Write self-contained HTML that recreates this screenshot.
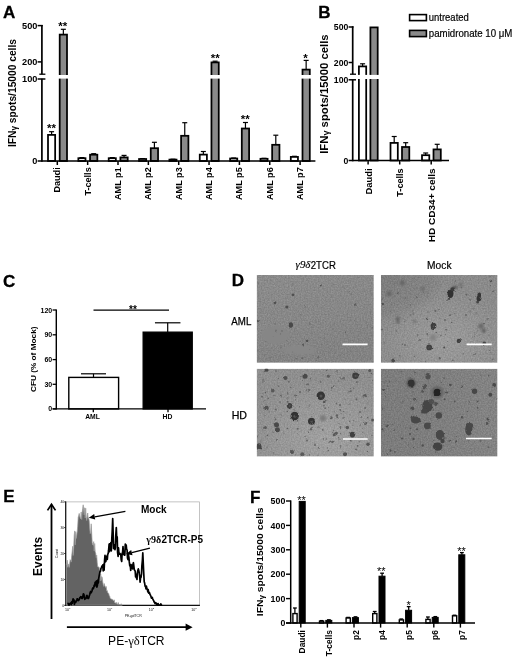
<!DOCTYPE html>
<html lang="en"><head><meta charset="utf-8"><title>Figure</title>
<style>html,body{margin:0;padding:0;background:#fff}svg{display:block}</style>
</head><body>
<svg width="520" height="661" viewBox="0 0 520 661" font-family='"Liberation Sans", sans-serif'>
<defs><filter id="b1" x="-5%" y="-5%" width="110%" height="110%"><feGaussianBlur stdDeviation="0.55"/></filter>
<filter id="rough" x="-5%" y="-5%" width="110%" height="110%"><feTurbulence type="fractalNoise" baseFrequency="0.35" numOctaves="2" seed="8" result="t"/><feDisplacementMap in="SourceGraphic" in2="t" scale="2.6" xChannelSelector="R" yChannelSelector="G"/><feGaussianBlur stdDeviation="0.5"/></filter>
<filter id="b2" x="-5%" y="-5%" width="110%" height="110%"><feGaussianBlur stdDeviation="1.3"/></filter>
<linearGradient id="g1a" x1="0" y1="0" x2="0.3" y2="1"><stop offset="0" stop-color="#fff" stop-opacity="0.03"/><stop offset="1" stop-color="#000" stop-opacity="0.05"/></linearGradient>
<radialGradient id="g2a" cx="0.55" cy="0.75" r="0.6"><stop offset="0" stop-color="#fff" stop-opacity="0.17"/><stop offset="1" stop-color="#fff" stop-opacity="0"/></radialGradient>
<radialGradient id="g2b" cx="0.0" cy="0.0" r="0.55"><stop offset="0" stop-color="#000" stop-opacity="0.12"/><stop offset="0.8" stop-color="#000" stop-opacity="0.06"/><stop offset="1" stop-color="#000" stop-opacity="0"/></radialGradient>
<radialGradient id="g3a" cx="0.6" cy="0.8" r="0.7"><stop offset="0" stop-color="#fff" stop-opacity="0.2"/><stop offset="1" stop-color="#fff" stop-opacity="0"/></radialGradient>
<linearGradient id="g4a" x1="0" y1="0" x2="1" y2="0"><stop offset="0" stop-color="#000" stop-opacity="0.03"/><stop offset="1" stop-color="#fff" stop-opacity="0.04"/></linearGradient>
<filter id="noise" x="0" y="0" width="100%" height="100%" color-interpolation-filters="sRGB"><feTurbulence type="fractalNoise" baseFrequency="0.7" numOctaves="2" seed="3"/><feColorMatrix type="matrix" values="1 0 0 0 0  1 0 0 0 0  1 0 0 0 0  0 0 0 0 1"/></filter></defs>
<rect width="520" height="661" fill="#fff"/>
<g id="panelA">
<text x="3.0" y="17.9" font-size="17" font-weight="bold" stroke="#000" stroke-width="0.3">A</text>
<text x="16.0" y="147" font-size="10.8" font-weight="bold" transform="rotate(-90 16.0 147)" textLength="108" lengthAdjust="spacingAndGlyphs">IFN<tspan font-size="8.5" dy="1">γ</tspan><tspan dy="-1"> spots/15000 cells</tspan></text>
<line x1="51.599999999999994" y1="131.7" x2="51.599999999999994" y2="134.9" stroke="#000" stroke-width="1.2"/>
<line x1="49.099999999999994" y1="131.7" x2="54.099999999999994" y2="131.7" stroke="#000" stroke-width="1.2"/>
<line x1="63.349999999999994" y1="29.3" x2="63.349999999999994" y2="34.6" stroke="#000" stroke-width="1.2"/>
<line x1="60.849999999999994" y1="29.3" x2="65.85" y2="29.3" stroke="#000" stroke-width="1.2"/>
<rect x="48.00" y="134.90" width="7.15" height="26.10" fill="#fff" stroke="#000" stroke-width="1.75"/>
<rect x="59.70" y="34.60" width="7.30" height="126.40" fill="#8a8a8a" stroke="#000" stroke-width="1.75"/>
<line x1="81.95" y1="157.6" x2="81.95" y2="158.2" stroke="#000" stroke-width="1.2"/>
<line x1="79.45" y1="157.6" x2="84.45" y2="157.6" stroke="#000" stroke-width="1.2"/>
<line x1="93.7" y1="153.7" x2="93.7" y2="154.7" stroke="#000" stroke-width="1.2"/>
<line x1="91.2" y1="153.7" x2="96.2" y2="153.7" stroke="#000" stroke-width="1.2"/>
<rect x="78.35" y="158.20" width="7.15" height="2.80" fill="#fff" stroke="#000" stroke-width="1.75"/>
<rect x="90.05" y="154.70" width="7.30" height="6.30" fill="#8a8a8a" stroke="#000" stroke-width="1.75"/>
<line x1="112.3" y1="157.6" x2="112.3" y2="158.2" stroke="#000" stroke-width="1.2"/>
<line x1="109.8" y1="157.6" x2="114.8" y2="157.6" stroke="#000" stroke-width="1.2"/>
<line x1="124.05" y1="155.4" x2="124.05" y2="157.4" stroke="#000" stroke-width="1.2"/>
<line x1="121.55" y1="155.4" x2="126.55" y2="155.4" stroke="#000" stroke-width="1.2"/>
<rect x="108.70" y="158.20" width="7.15" height="2.80" fill="#fff" stroke="#000" stroke-width="1.75"/>
<rect x="120.40" y="157.40" width="7.30" height="3.60" fill="#8a8a8a" stroke="#000" stroke-width="1.75"/>
<line x1="142.65000000000003" y1="158.6" x2="142.65000000000003" y2="159.0" stroke="#000" stroke-width="1.2"/>
<line x1="140.15000000000003" y1="158.6" x2="145.15000000000003" y2="158.6" stroke="#000" stroke-width="1.2"/>
<line x1="154.40000000000003" y1="142.3" x2="154.40000000000003" y2="148.2" stroke="#000" stroke-width="1.2"/>
<line x1="151.90000000000003" y1="142.3" x2="156.90000000000003" y2="142.3" stroke="#000" stroke-width="1.2"/>
<rect x="139.05" y="159.00" width="7.15" height="2.00" fill="#fff" stroke="#000" stroke-width="1.75"/>
<rect x="150.75" y="148.20" width="7.30" height="12.80" fill="#8a8a8a" stroke="#000" stroke-width="1.75"/>
<line x1="173.0" y1="159.2" x2="173.0" y2="159.6" stroke="#000" stroke-width="1.2"/>
<line x1="170.5" y1="159.2" x2="175.5" y2="159.2" stroke="#000" stroke-width="1.2"/>
<line x1="184.75" y1="122.7" x2="184.75" y2="135.8" stroke="#000" stroke-width="1.2"/>
<line x1="182.25" y1="122.7" x2="187.25" y2="122.7" stroke="#000" stroke-width="1.2"/>
<rect x="169.40" y="159.60" width="7.15" height="1.40" fill="#fff" stroke="#000" stroke-width="1.75"/>
<rect x="181.10" y="135.80" width="7.30" height="25.20" fill="#8a8a8a" stroke="#000" stroke-width="1.75"/>
<line x1="203.35000000000002" y1="151.5" x2="203.35000000000002" y2="154.6" stroke="#000" stroke-width="1.2"/>
<line x1="200.85000000000002" y1="151.5" x2="205.85000000000002" y2="151.5" stroke="#000" stroke-width="1.2"/>
<line x1="215.10000000000002" y1="61.2" x2="215.10000000000002" y2="62.4" stroke="#000" stroke-width="1.2"/>
<line x1="212.60000000000002" y1="61.2" x2="217.60000000000002" y2="61.2" stroke="#000" stroke-width="1.2"/>
<rect x="199.75" y="154.60" width="7.15" height="6.40" fill="#fff" stroke="#000" stroke-width="1.75"/>
<rect x="211.45" y="62.40" width="7.30" height="98.60" fill="#8a8a8a" stroke="#000" stroke-width="1.75"/>
<line x1="233.70000000000005" y1="158.0" x2="233.70000000000005" y2="158.5" stroke="#000" stroke-width="1.2"/>
<line x1="231.20000000000005" y1="158.0" x2="236.20000000000005" y2="158.0" stroke="#000" stroke-width="1.2"/>
<line x1="245.45000000000005" y1="122.5" x2="245.45000000000005" y2="128.5" stroke="#000" stroke-width="1.2"/>
<line x1="242.95000000000005" y1="122.5" x2="247.95000000000005" y2="122.5" stroke="#000" stroke-width="1.2"/>
<rect x="230.10" y="158.50" width="7.15" height="2.50" fill="#fff" stroke="#000" stroke-width="1.75"/>
<rect x="241.80" y="128.50" width="7.30" height="32.50" fill="#8a8a8a" stroke="#000" stroke-width="1.75"/>
<line x1="264.05" y1="158.3" x2="264.05" y2="158.8" stroke="#000" stroke-width="1.2"/>
<line x1="261.55" y1="158.3" x2="266.55" y2="158.3" stroke="#000" stroke-width="1.2"/>
<line x1="275.8" y1="135.2" x2="275.8" y2="144.8" stroke="#000" stroke-width="1.2"/>
<line x1="273.3" y1="135.2" x2="278.3" y2="135.2" stroke="#000" stroke-width="1.2"/>
<rect x="260.45" y="158.80" width="7.15" height="2.20" fill="#fff" stroke="#000" stroke-width="1.75"/>
<rect x="272.15" y="144.80" width="7.30" height="16.20" fill="#8a8a8a" stroke="#000" stroke-width="1.75"/>
<line x1="294.40000000000003" y1="156.3" x2="294.40000000000003" y2="156.9" stroke="#000" stroke-width="1.2"/>
<line x1="291.90000000000003" y1="156.3" x2="296.90000000000003" y2="156.3" stroke="#000" stroke-width="1.2"/>
<line x1="306.15000000000003" y1="60.4" x2="306.15000000000003" y2="69.6" stroke="#000" stroke-width="1.2"/>
<line x1="303.65000000000003" y1="60.4" x2="308.65000000000003" y2="60.4" stroke="#000" stroke-width="1.2"/>
<rect x="290.80" y="156.90" width="7.15" height="4.10" fill="#fff" stroke="#000" stroke-width="1.75"/>
<rect x="302.50" y="69.60" width="7.30" height="91.40" fill="#8a8a8a" stroke="#000" stroke-width="1.75"/>
<rect x="44" y="75.0" width="280" height="3.6" fill="#fff"/>
<line x1="41.9" y1="24.9" x2="41.9" y2="74.2" stroke="#000" stroke-width="1.7"/>
<line x1="41.9" y1="78.8" x2="41.9" y2="161.8" stroke="#000" stroke-width="1.7"/>
<line x1="39.3" y1="74.2" x2="45.4" y2="74.2" stroke="#000" stroke-width="1.3"/>
<line x1="37.6" y1="79.0" x2="45.4" y2="79.0" stroke="#000" stroke-width="1.5"/>
<line x1="37.6" y1="25.6" x2="42.7" y2="25.6" stroke="#000" stroke-width="1.5"/>
<line x1="37.6" y1="61.9" x2="41.9" y2="61.9" stroke="#000" stroke-width="1.5"/>
<line x1="37.6" y1="161.0" x2="315.4" y2="161.0" stroke="#000" stroke-width="1.7"/>
<line x1="57.3" y1="161.0" x2="57.3" y2="165.0" stroke="#000" stroke-width="1.5"/>
<line x1="87.65" y1="161.0" x2="87.65" y2="165.0" stroke="#000" stroke-width="1.5"/>
<line x1="118.0" y1="161.0" x2="118.0" y2="165.0" stroke="#000" stroke-width="1.5"/>
<line x1="148.35000000000002" y1="161.0" x2="148.35000000000002" y2="165.0" stroke="#000" stroke-width="1.5"/>
<line x1="178.7" y1="161.0" x2="178.7" y2="165.0" stroke="#000" stroke-width="1.5"/>
<line x1="209.05" y1="161.0" x2="209.05" y2="165.0" stroke="#000" stroke-width="1.5"/>
<line x1="239.40000000000003" y1="161.0" x2="239.40000000000003" y2="165.0" stroke="#000" stroke-width="1.5"/>
<line x1="269.75" y1="161.0" x2="269.75" y2="165.0" stroke="#000" stroke-width="1.5"/>
<line x1="300.1" y1="161.0" x2="300.1" y2="165.0" stroke="#000" stroke-width="1.5"/>
<text x="37.4" y="28.8" font-size="9.2" font-weight="bold" text-anchor="end">500</text>
<text x="37.4" y="65.1" font-size="9.2" font-weight="bold" text-anchor="end">200</text>
<text x="37.4" y="82.2" font-size="9.2" font-weight="bold" text-anchor="end">100</text>
<text x="37.4" y="164.2" font-size="9.2" font-weight="bold" text-anchor="end">0</text>
<text x="60.199999999999996" y="167.3" font-size="9.1" font-weight="bold" text-anchor="end" transform="rotate(-90 60.199999999999996 167.3)">Daudi</text>
<text x="90.55000000000001" y="167.3" font-size="9.1" font-weight="bold" text-anchor="end" transform="rotate(-90 90.55000000000001 167.3)">T-cells</text>
<text x="120.9" y="167.3" font-size="9.1" font-weight="bold" text-anchor="end" transform="rotate(-90 120.9 167.3)">AML p1</text>
<text x="151.25000000000003" y="167.3" font-size="9.1" font-weight="bold" text-anchor="end" transform="rotate(-90 151.25000000000003 167.3)">AML p2</text>
<text x="181.6" y="167.3" font-size="9.1" font-weight="bold" text-anchor="end" transform="rotate(-90 181.6 167.3)">AML p3</text>
<text x="211.95000000000002" y="167.3" font-size="9.1" font-weight="bold" text-anchor="end" transform="rotate(-90 211.95000000000002 167.3)">AML p4</text>
<text x="242.30000000000004" y="167.3" font-size="9.1" font-weight="bold" text-anchor="end" transform="rotate(-90 242.30000000000004 167.3)">AML p5</text>
<text x="272.65" y="167.3" font-size="9.1" font-weight="bold" text-anchor="end" transform="rotate(-90 272.65 167.3)">AML p6</text>
<text x="303.0" y="167.3" font-size="9.1" font-weight="bold" text-anchor="end" transform="rotate(-90 303.0 167.3)">AML p7</text>
<text x="51.5" y="132.2" font-size="11.5" font-weight="bold" text-anchor="middle">**</text>
<text x="62.8" y="30.3" font-size="11.5" font-weight="bold" text-anchor="middle">**</text>
<text x="215.3" y="62.2" font-size="11.5" font-weight="bold" text-anchor="middle">**</text>
<text x="245.3" y="123.2" font-size="11.5" font-weight="bold" text-anchor="middle">**</text>
<text x="305.6" y="61.900000000000006" font-size="11.5" font-weight="bold" text-anchor="middle">*</text>
</g>
<g id="panelB">
<text x="318.3" y="17.6" font-size="17" font-weight="bold" stroke="#000" stroke-width="0.3">B</text>
<text x="327.7" y="153.8" font-size="10.6" font-weight="bold" transform="rotate(-90 327.7 153.8)" textLength="119.4" lengthAdjust="spacingAndGlyphs">IFN<tspan font-size="8.5" dy="1">γ</tspan><tspan dy="-1"> spots/15000 cells</tspan></text>
<line x1="362.6" y1="63.8" x2="362.6" y2="66.4" stroke="#000" stroke-width="1.2"/>
<line x1="360.1" y1="63.8" x2="365.1" y2="63.8" stroke="#000" stroke-width="1.2"/>
<rect x="358.90" y="66.40" width="7.30" height="94.10" fill="#fff" stroke="#000" stroke-width="1.75"/>
<rect x="370.40" y="27.40" width="7.30" height="133.10" fill="#8a8a8a" stroke="#000" stroke-width="1.75"/>
<line x1="394.2" y1="136.5" x2="394.2" y2="142.9" stroke="#000" stroke-width="1.2"/>
<line x1="391.7" y1="136.5" x2="396.7" y2="136.5" stroke="#000" stroke-width="1.2"/>
<line x1="405.7" y1="142.7" x2="405.7" y2="147.0" stroke="#000" stroke-width="1.2"/>
<line x1="403.2" y1="142.7" x2="408.2" y2="142.7" stroke="#000" stroke-width="1.2"/>
<rect x="390.50" y="142.90" width="7.30" height="17.60" fill="#fff" stroke="#000" stroke-width="1.75"/>
<rect x="402.00" y="147.00" width="7.30" height="13.50" fill="#8a8a8a" stroke="#000" stroke-width="1.75"/>
<line x1="425.7" y1="153.0" x2="425.7" y2="155.2" stroke="#000" stroke-width="1.2"/>
<line x1="423.2" y1="153.0" x2="428.2" y2="153.0" stroke="#000" stroke-width="1.2"/>
<line x1="437.2" y1="144.3" x2="437.2" y2="149.4" stroke="#000" stroke-width="1.2"/>
<line x1="434.7" y1="144.3" x2="439.7" y2="144.3" stroke="#000" stroke-width="1.2"/>
<rect x="422.00" y="155.20" width="7.30" height="5.30" fill="#fff" stroke="#000" stroke-width="1.75"/>
<rect x="433.50" y="149.40" width="7.30" height="11.10" fill="#8a8a8a" stroke="#000" stroke-width="1.75"/>
<rect x="355" y="74.9" width="30" height="4.1" fill="#fff"/>
<line x1="352.7" y1="26.2" x2="352.7" y2="74.2" stroke="#000" stroke-width="1.7"/>
<line x1="352.7" y1="79.8" x2="352.7" y2="161.3" stroke="#000" stroke-width="1.7"/>
<line x1="350" y1="74.2" x2="356" y2="74.2" stroke="#000" stroke-width="1.3"/>
<line x1="348.6" y1="79.8" x2="356" y2="79.8" stroke="#000" stroke-width="1.5"/>
<line x1="348.6" y1="27" x2="353.5" y2="27" stroke="#000" stroke-width="1.5"/>
<line x1="348.6" y1="62.5" x2="352.7" y2="62.5" stroke="#000" stroke-width="1.5"/>
<line x1="348.6" y1="160.5" x2="449" y2="160.5" stroke="#000" stroke-width="1.7"/>
<line x1="368.1" y1="160.5" x2="368.1" y2="164.5" stroke="#000" stroke-width="1.5"/>
<line x1="399.7" y1="160.5" x2="399.7" y2="164.5" stroke="#000" stroke-width="1.5"/>
<line x1="431.2" y1="160.5" x2="431.2" y2="164.5" stroke="#000" stroke-width="1.5"/>
<text x="348.3" y="30.1" font-size="8.7" font-weight="bold" text-anchor="end">500</text>
<text x="348.3" y="65.6" font-size="8.7" font-weight="bold" text-anchor="end">200</text>
<text x="348.3" y="82.89999999999999" font-size="8.7" font-weight="bold" text-anchor="end">100</text>
<text x="348.3" y="163.6" font-size="8.7" font-weight="bold" text-anchor="end">0</text>
<text x="371.90000000000003" y="194.5" font-size="9.6" font-weight="bold" transform="rotate(-90 371.90000000000003 194.5)" textLength="26.2" lengthAdjust="spacingAndGlyphs">Daudi</text>
<text x="403.5" y="196.70000000000002" font-size="9.6" font-weight="bold" transform="rotate(-90 403.5 196.70000000000002)" textLength="28.4" lengthAdjust="spacingAndGlyphs">T-cells</text>
<text x="435.0" y="242.3" font-size="9.6" font-weight="bold" transform="rotate(-90 435.0 242.3)" textLength="74" lengthAdjust="spacingAndGlyphs">HD CD34+ cells</text>
<rect x="409.60" y="14.60" width="16.80" height="6.00" fill="#fff" stroke="#000" stroke-width="1.6"/>
<rect x="409.60" y="30.40" width="16.80" height="6.20" fill="#8a8a8a" stroke="#000" stroke-width="1.6"/>
<text x="428.8" y="20.9" font-size="10.8" textLength="40" lengthAdjust="spacingAndGlyphs" stroke="#000" stroke-width="0.2">untreated</text>
<text x="428.8" y="37.0" font-size="10.8" textLength="83.6" lengthAdjust="spacingAndGlyphs" stroke="#000" stroke-width="0.2">pamidronate 10 μM</text>
</g>
<g id="panelC">
<text x="3.0" y="286.5" font-size="17" font-weight="bold" stroke="#000" stroke-width="0.3">C</text>
<text x="35.7" y="392" font-size="8" font-weight="bold" transform="rotate(-90 35.7 392)" textLength="65.5" lengthAdjust="spacingAndGlyphs">CFU (% of Mock)</text>
<line x1="93.5" y1="373.8" x2="93.5" y2="377" stroke="#000" stroke-width="1.2"/>
<line x1="81.0" y1="373.8" x2="106.0" y2="373.8" stroke="#000" stroke-width="1.2"/>
<line x1="167.7" y1="322.8" x2="167.7" y2="332" stroke="#000" stroke-width="1.2"/>
<line x1="154.95" y1="322.8" x2="180.45" y2="322.8" stroke="#000" stroke-width="1.2"/>
<rect x="68.80" y="377.40" width="49.80" height="31.50" fill="#fff" stroke="#000" stroke-width="1.4"/>
<rect x="143.20" y="332.20" width="49.00" height="76.70" fill="#000" stroke="#000" stroke-width="1.4"/>
<line x1="56.3" y1="309.4" x2="56.3" y2="409.59999999999997" stroke="#000" stroke-width="1.4"/>
<line x1="52.6" y1="408.9" x2="206" y2="408.9" stroke="#000" stroke-width="1.4"/>
<line x1="52.6" y1="310.0" x2="56.3" y2="310.0" stroke="#000" stroke-width="1.3"/>
<text x="52.2" y="312.5" font-size="7" font-weight="bold" text-anchor="end">120</text>
<line x1="52.6" y1="334.8" x2="56.3" y2="334.8" stroke="#000" stroke-width="1.3"/>
<text x="52.2" y="337.3" font-size="7" font-weight="bold" text-anchor="end">90</text>
<line x1="52.6" y1="359.6" x2="56.3" y2="359.6" stroke="#000" stroke-width="1.3"/>
<text x="52.2" y="362.1" font-size="7" font-weight="bold" text-anchor="end">60</text>
<line x1="52.6" y1="384.3" x2="56.3" y2="384.3" stroke="#000" stroke-width="1.3"/>
<text x="52.2" y="386.8" font-size="7" font-weight="bold" text-anchor="end">30</text>
<line x1="52.6" y1="408.9" x2="56.3" y2="408.9" stroke="#000" stroke-width="1.3"/>
<text x="52.2" y="411.4" font-size="7" font-weight="bold" text-anchor="end">0</text>
<line x1="93.3" y1="408.9" x2="93.3" y2="412.29999999999995" stroke="#000" stroke-width="1.3"/>
<line x1="168" y1="408.9" x2="168" y2="412.29999999999995" stroke="#000" stroke-width="1.3"/>
<text x="92.5" y="418.6" font-size="6.8" font-weight="bold" text-anchor="middle">AML</text>
<text x="167.5" y="418.6" font-size="6.8" font-weight="bold" text-anchor="middle">HD</text>
<line x1="93.5" y1="310.2" x2="169" y2="310.2" stroke="#000" stroke-width="1.3"/>
<text x="133" y="312.6" font-size="10" font-weight="bold" text-anchor="middle">**</text>
</g>
<g id="panelD">
<text x="231.8" y="286.2" font-size="17" font-weight="bold" stroke="#000" stroke-width="0.3">D</text>
<text x="295.6" y="268.4" font-family='"Liberation Serif", "DejaVu Serif", serif' font-style="italic" font-size="10.6" textLength="14.8" lengthAdjust="spacingAndGlyphs" stroke="#000" stroke-width="0.15">γ9δ</text>
<text x="310.8" y="268.5" font-size="10" textLength="25" lengthAdjust="spacingAndGlyphs" stroke="#000" stroke-width="0.2">2TCR</text>
<text x="427.1" y="268.7" font-size="10.4" textLength="24.4" lengthAdjust="spacingAndGlyphs" stroke="#000" stroke-width="0.2">Mock</text>
<text x="231.3" y="325.3" font-size="10.2" textLength="20" lengthAdjust="spacingAndGlyphs" stroke="#000" stroke-width="0.25">AML</text>
<text x="231.7" y="418.6" font-size="10.2" textLength="15.3" lengthAdjust="spacingAndGlyphs" stroke="#000" stroke-width="0.25">HD</text>
<clipPath id="clip1"><rect x="256.7" y="275.0" width="117.1" height="87.8"/></clipPath>
<g clip-path="url(#clip1)">
<rect x="256.7" y="275.0" width="117.1" height="87.8" fill="#8a8a8a"/>
<rect x="256.7" y="275.0" width="117.1" height="87.8" fill="url(#g1a)"/>
<rect x="256.7" y="275.0" width="117.1" height="87.8" fill="#8a8a8a" filter="url(#noise)" opacity="0.16"/>
<g filter="url(#b2)">
<ellipse cx="275" cy="335" rx="14" ry="9" fill="#868686"/>
<ellipse cx="300" cy="350" rx="16" ry="5" fill="#878787"/>
</g>
<g filter="url(#rough)">
<circle cx="309.8" cy="324.0" r="0.91" fill="rgb(114,114,114)"/>
<circle cx="309.7" cy="349.4" r="0.50" fill="rgb(116,116,116)"/>
<circle cx="312.5" cy="328.7" r="0.50" fill="rgb(114,114,114)"/>
<circle cx="292.6" cy="283.8" r="0.85" fill="rgb(122,122,122)"/>
<circle cx="330.7" cy="327.1" r="0.62" fill="rgb(114,114,114)"/>
<circle cx="333.0" cy="328.8" r="0.49" fill="rgb(100,100,100)"/>
<circle cx="353.4" cy="281.4" r="0.42" fill="rgb(107,107,107)"/>
<circle cx="326.7" cy="342.8" r="0.58" fill="rgb(118,118,118)"/>
<circle cx="354.7" cy="320.5" r="0.75" fill="rgb(115,115,115)"/>
<circle cx="258.2" cy="283.3" r="0.76" fill="rgb(113,113,113)"/>
<circle cx="372.5" cy="361.4" r="0.86" fill="rgb(122,122,122)"/>
<circle cx="286.9" cy="341.0" r="0.68" fill="rgb(100,100,100)"/>
<circle cx="265.8" cy="341.7" r="0.62" fill="rgb(109,109,109)"/>
<circle cx="302.2" cy="358.2" r="0.87" fill="rgb(100,100,100)"/>
<circle cx="282.3" cy="355.5" r="0.43" fill="rgb(112,112,112)"/>
<circle cx="370.5" cy="310.1" r="0.44" fill="rgb(120,120,120)"/>
<circle cx="280.5" cy="333.9" r="0.59" fill="rgb(109,109,109)"/>
<circle cx="296.0" cy="358.7" r="0.82" fill="rgb(103,103,103)"/>
<circle cx="273.2" cy="336.7" r="0.41" fill="rgb(114,114,114)"/>
<circle cx="349.4" cy="291.2" r="0.71" fill="rgb(114,114,114)"/>
<circle cx="316.3" cy="360.5" r="0.82" fill="rgb(113,113,113)"/>
<circle cx="331.8" cy="286.0" r="0.63" fill="rgb(106,106,106)"/>
<circle cx="257.8" cy="350.2" r="0.94" fill="rgb(118,118,118)"/>
<circle cx="292.7" cy="351.9" r="0.52" fill="rgb(112,112,112)"/>
<circle cx="372.3" cy="327.7" r="0.72" fill="rgb(101,101,101)"/>
<circle cx="371.6" cy="294.3" r="0.54" fill="rgb(119,119,119)"/>
<circle cx="295.6" cy="301.4" r="0.44" fill="rgb(102,102,102)"/>
<circle cx="281.7" cy="330.6" r="0.41" fill="rgb(111,111,111)"/>
<circle cx="300.5" cy="314.9" r="0.93" fill="rgb(115,115,115)"/>
<circle cx="353.5" cy="287.6" r="0.61" fill="rgb(120,120,120)"/>
<ellipse cx="293" cy="294.8" rx="1.4" ry="1.4" fill="#505050"/>
<ellipse cx="275" cy="302.8" rx="1.4" ry="1.4" fill="#505050"/>
<ellipse cx="286.8" cy="307" rx="1.6" ry="1.6" fill="#505050"/>
<ellipse cx="290.8" cy="325" rx="2.2" ry="2.8" fill="#484848"/>
<ellipse cx="355.5" cy="304.8" rx="1.3" ry="1.3" fill="#505050"/>
<ellipse cx="320.8" cy="285.5" rx="0.9" ry="0.9" fill="#505050"/>
<ellipse cx="305" cy="307" rx="0.8" ry="0.8" fill="#646464"/>
<ellipse cx="346.3" cy="331.8" rx="0.9" ry="0.9" fill="#505050"/>
<ellipse cx="307" cy="340.8" rx="1.3" ry="1.3" fill="#505050"/>
<ellipse cx="303" cy="344.5" rx="0.9" ry="0.9" fill="#505050"/>
<ellipse cx="318" cy="357.5" rx="0.9" ry="0.9" fill="#646464"/>
<ellipse cx="316" cy="322" rx="0.8" ry="0.8" fill="#727272"/>
<ellipse cx="367" cy="323" rx="0.8" ry="0.8" fill="#727272"/>
<ellipse cx="343" cy="287" rx="0.8" ry="0.8" fill="#727272"/>
<ellipse cx="351" cy="294" rx="0.8" ry="0.8" fill="#727272"/>
<ellipse cx="270" cy="358" rx="0.8" ry="0.8" fill="#727272"/>
<ellipse cx="281" cy="347.5" rx="0.8" ry="0.8" fill="#727272"/>
<ellipse cx="275" cy="323.8" rx="0.9" ry="0.9" fill="#727272"/>
<ellipse cx="257.8" cy="321" rx="1.0" ry="1.0" fill="#505050"/>
<ellipse cx="282" cy="331" rx="0.9" ry="0.9" fill="#727272"/>
<ellipse cx="276" cy="330.6" rx="1.0" ry="1.0" fill="#727272"/>
</g>
<line x1="342.5" y1="344.3" x2="367.6" y2="344.3" stroke="#fff" stroke-width="1.7"/>
</g>
<clipPath id="clip2"><rect x="380.9" y="275.0" width="116.6" height="87.8"/></clipPath>
<g clip-path="url(#clip2)">
<rect x="380.9" y="275.0" width="116.6" height="87.8" fill="#8d8d8d"/>
<rect x="380.9" y="275.0" width="116.6" height="87.8" fill="url(#g2a)"/>
<rect x="380.9" y="275.0" width="116.6" height="87.8" fill="url(#g2b)"/>
<rect x="380.9" y="275.0" width="116.6" height="87.8" fill="#8d8d8d" filter="url(#noise)" opacity="0.16"/>
<g filter="url(#b2)">
<ellipse cx="402.4" cy="282.8" rx="2.6" ry="2.6" fill="#666"/>
<ellipse cx="389.2" cy="293.6" rx="2.6" ry="2.6" fill="#666"/>
<ellipse cx="422.7" cy="289" rx="2.0" ry="2.0" fill="#6a6a6a"/>
<ellipse cx="397.8" cy="319" rx="2.4" ry="2.4" fill="#686868"/>
<ellipse cx="398" cy="322.5" rx="1.8" ry="1.8" fill="#6c6c6c"/>
<ellipse cx="414.6" cy="321.3" rx="1.7" ry="1.7" fill="#6c6c6c"/>
<ellipse cx="481" cy="326" rx="2.8" ry="2.8" fill="#6a6a6a"/>
<ellipse cx="483.8" cy="330.8" rx="2.2" ry="2.2" fill="#606060"/>
<ellipse cx="433" cy="337.5" rx="3.2" ry="3.2" fill="#838383"/>
<ellipse cx="460.8" cy="284.4" rx="1.8" ry="1.8" fill="#6c6c6c"/>
<ellipse cx="454.5" cy="287.6" rx="3.2" ry="1.6" fill="#555" transform="rotate(-20 454.5 287.6)"/>
</g>
<g filter="url(#rough)">
<circle cx="436.3" cy="332.4" r="0.77" fill="rgb(96,96,96)"/>
<circle cx="425.6" cy="361.5" r="0.67" fill="rgb(112,112,112)"/>
<circle cx="474.8" cy="335.3" r="0.73" fill="rgb(109,109,109)"/>
<circle cx="382.1" cy="329.6" r="0.94" fill="rgb(103,103,103)"/>
<circle cx="400.5" cy="353.7" r="0.43" fill="rgb(118,118,118)"/>
<circle cx="404.8" cy="320.1" r="0.85" fill="rgb(113,113,113)"/>
<circle cx="428.3" cy="348.3" r="0.41" fill="rgb(93,93,93)"/>
<circle cx="475.8" cy="332.8" r="0.52" fill="rgb(105,105,105)"/>
<circle cx="490.4" cy="285.7" r="0.63" fill="rgb(96,96,96)"/>
<circle cx="443.7" cy="351.7" r="0.71" fill="rgb(114,114,114)"/>
<circle cx="483.4" cy="323.6" r="0.68" fill="rgb(94,94,94)"/>
<circle cx="427.8" cy="311.9" r="0.73" fill="rgb(107,107,107)"/>
<circle cx="451.7" cy="322.4" r="0.75" fill="rgb(94,94,94)"/>
<circle cx="492.8" cy="359.8" r="0.76" fill="rgb(103,103,103)"/>
<circle cx="489.7" cy="350.3" r="0.61" fill="rgb(101,101,101)"/>
<circle cx="394.9" cy="296.2" r="0.60" fill="rgb(108,108,108)"/>
<circle cx="447.6" cy="341.6" r="0.50" fill="rgb(104,104,104)"/>
<circle cx="476.2" cy="312.9" r="0.69" fill="rgb(99,99,99)"/>
<circle cx="459.3" cy="279.7" r="0.51" fill="rgb(111,111,111)"/>
<circle cx="393.7" cy="323.2" r="0.50" fill="rgb(114,114,114)"/>
<circle cx="413.3" cy="313.2" r="0.67" fill="rgb(111,111,111)"/>
<circle cx="454.9" cy="280.5" r="0.65" fill="rgb(98,98,98)"/>
<circle cx="420.8" cy="315.1" r="0.78" fill="rgb(119,119,119)"/>
<circle cx="437.0" cy="358.0" r="0.49" fill="rgb(109,109,109)"/>
<circle cx="423.6" cy="292.2" r="0.81" fill="rgb(111,111,111)"/>
<circle cx="382.7" cy="299.0" r="0.82" fill="rgb(102,102,102)"/>
<circle cx="402.5" cy="344.2" r="0.68" fill="rgb(99,99,99)"/>
<circle cx="452.8" cy="360.4" r="0.95" fill="rgb(108,108,108)"/>
<circle cx="399.6" cy="355.6" r="0.89" fill="rgb(113,113,113)"/>
<circle cx="477.2" cy="330.9" r="0.53" fill="rgb(108,108,108)"/>
<circle cx="439.5" cy="318.0" r="0.59" fill="rgb(113,113,113)"/>
<circle cx="490.4" cy="352.7" r="0.49" fill="rgb(101,101,101)"/>
<circle cx="452.6" cy="279.9" r="0.58" fill="rgb(119,119,119)"/>
<circle cx="440.9" cy="335.7" r="0.79" fill="rgb(98,98,98)"/>
<circle cx="466.0" cy="320.7" r="0.42" fill="rgb(92,92,92)"/>
<circle cx="461.4" cy="287.3" r="0.89" fill="rgb(105,105,105)"/>
<circle cx="397.8" cy="293.2" r="0.66" fill="rgb(93,93,93)"/>
<circle cx="446.1" cy="329.6" r="0.91" fill="rgb(100,100,100)"/>
<circle cx="469.0" cy="311.8" r="0.72" fill="rgb(120,120,120)"/>
<circle cx="428.3" cy="293.1" r="0.71" fill="rgb(103,103,103)"/>
<circle cx="455.0" cy="309.0" r="0.49" fill="rgb(114,114,114)"/>
<circle cx="463.3" cy="353.5" r="0.84" fill="rgb(120,120,120)"/>
<circle cx="390.3" cy="311.6" r="0.51" fill="rgb(104,104,104)"/>
<circle cx="472.7" cy="336.9" r="0.50" fill="rgb(100,100,100)"/>
<circle cx="488.9" cy="335.1" r="0.70" fill="rgb(111,111,111)"/>
<circle cx="451.9" cy="294.2" r="0.73" fill="rgb(113,113,113)"/>
<circle cx="427.1" cy="297.1" r="0.62" fill="rgb(102,102,102)"/>
<circle cx="391.3" cy="304.5" r="0.78" fill="rgb(115,115,115)"/>
<circle cx="417.7" cy="335.7" r="0.82" fill="rgb(113,113,113)"/>
<circle cx="454.9" cy="313.4" r="0.50" fill="rgb(98,98,98)"/>
<circle cx="437.8" cy="314.1" r="0.50" fill="rgb(113,113,113)"/>
<circle cx="450.0" cy="315.2" r="0.89" fill="rgb(95,95,95)"/>
<circle cx="490.1" cy="276.7" r="0.60" fill="rgb(100,100,100)"/>
<circle cx="479.2" cy="335.1" r="0.56" fill="rgb(108,108,108)"/>
<circle cx="487.2" cy="319.0" r="0.78" fill="rgb(97,97,97)"/>
<circle cx="439.3" cy="309.4" r="0.68" fill="rgb(114,114,114)"/>
<circle cx="410.5" cy="315.4" r="0.87" fill="rgb(118,118,118)"/>
<circle cx="470.4" cy="311.0" r="0.78" fill="rgb(117,117,117)"/>
<circle cx="427.2" cy="333.8" r="0.76" fill="rgb(95,95,95)"/>
<circle cx="445.4" cy="334.4" r="0.59" fill="rgb(115,115,115)"/>
<circle cx="383.8" cy="342.5" r="0.89" fill="rgb(112,112,112)"/>
<circle cx="417.1" cy="287.7" r="0.52" fill="rgb(109,109,109)"/>
<circle cx="397.3" cy="318.4" r="0.64" fill="rgb(103,103,103)"/>
<circle cx="414.6" cy="356.3" r="0.73" fill="rgb(104,104,104)"/>
<circle cx="475.1" cy="343.7" r="0.73" fill="rgb(96,96,96)"/>
<circle cx="396.3" cy="331.0" r="0.86" fill="rgb(111,111,111)"/>
<circle cx="473.1" cy="308.5" r="0.63" fill="rgb(113,113,113)"/>
<circle cx="412.1" cy="310.9" r="0.61" fill="rgb(104,104,104)"/>
<circle cx="489.6" cy="345.9" r="0.50" fill="rgb(117,117,117)"/>
<circle cx="405.4" cy="297.9" r="0.93" fill="rgb(108,108,108)"/>
<ellipse cx="450.4" cy="293.6" rx="3.0" ry="4.4" fill="#333"/>
<ellipse cx="452.6" cy="289.2" rx="2.4" ry="2.0" fill="#3c3c3c"/>
<ellipse cx="449" cy="298.5" rx="1.0" ry="1.6" fill="#444"/>
<ellipse cx="478.8" cy="297" rx="2.0" ry="4.6" fill="#353535" transform="rotate(12 478.8 297)"/>
<ellipse cx="477.6" cy="302" rx="1.4" ry="1.6" fill="#444"/>
<ellipse cx="433.5" cy="326" rx="2.9" ry="2.9" fill="#3c3c3c"/>
<ellipse cx="433.7" cy="326.2" rx="1.04" ry="1.04" fill="#525252"/>
<ellipse cx="429.2" cy="347.4" rx="2.9" ry="2.9" fill="#404040"/>
<ellipse cx="429.4" cy="347.59999999999997" rx="1.04" ry="1.04" fill="#525252"/>
<ellipse cx="458.9" cy="340.9" rx="2.2" ry="2.2" fill="#3c3c3c"/>
<ellipse cx="459.09999999999997" cy="341.09999999999997" rx="0.79" ry="0.79" fill="#525252"/>
<ellipse cx="484.3" cy="343.4" rx="1.8" ry="1.8" fill="#444"/>
<ellipse cx="393.2" cy="360.5" rx="1.9" ry="1.9" fill="#4c4c4c"/>
<ellipse cx="427.3" cy="319" rx="1.0" ry="1.0" fill="#505050"/>
<ellipse cx="490.8" cy="281" rx="1.2" ry="1.2" fill="#505050"/>
<ellipse cx="382.8" cy="304" rx="1.2" ry="1.2" fill="#505050"/>
<ellipse cx="435.4" cy="311" rx="1.0" ry="1.0" fill="#646464"/>
<ellipse cx="444.2" cy="347.4" rx="1.0" ry="1.0" fill="#505050"/>
<ellipse cx="466.5" cy="294.8" rx="1.0" ry="1.0" fill="#646464"/>
<ellipse cx="493" cy="291.3" rx="1.0" ry="1.0" fill="#646464"/>
<ellipse cx="439.5" cy="358.2" rx="1.2" ry="1.2" fill="#646464"/>
<ellipse cx="417" cy="297" rx="1.0" ry="1.0" fill="#646464"/>
<ellipse cx="398.3" cy="293.3" rx="0.9" ry="0.9" fill="#505050"/>
<ellipse cx="447" cy="300" rx="1.0" ry="1.0" fill="#646464"/>
<ellipse cx="470" cy="300" rx="0.9" ry="0.9" fill="#646464"/>
<ellipse cx="410" cy="305" rx="0.9" ry="0.9" fill="#646464"/>
<ellipse cx="445" cy="320" rx="0.9" ry="0.9" fill="#646464"/>
<ellipse cx="466" cy="315" rx="0.9" ry="0.9" fill="#646464"/>
<ellipse cx="420" cy="340" rx="0.9" ry="0.9" fill="#646464"/>
<ellipse cx="405" cy="345" rx="0.9" ry="0.9" fill="#646464"/>
<ellipse cx="475" cy="355" rx="0.9" ry="0.9" fill="#646464"/>
</g>
<line x1="466.6" y1="344.3" x2="491.7" y2="344.3" stroke="#fff" stroke-width="1.7"/>
</g>
<clipPath id="clip3"><rect x="256.7" y="368.8" width="117.1" height="87.8"/></clipPath>
<g clip-path="url(#clip3)">
<rect x="256.7" y="368.8" width="117.1" height="87.8" fill="#929292"/>
<rect x="256.7" y="368.8" width="117.1" height="87.8" fill="url(#g3a)"/>
<rect x="256.7" y="368.8" width="117.1" height="87.8" fill="#929292" filter="url(#noise)" opacity="0.16"/>
<g filter="url(#b2)">
<ellipse cx="323" cy="418.2" rx="3.1" ry="3.1" fill="#7c7c7c"/>
</g>
<g filter="url(#rough)">
<circle cx="287.5" cy="428.6" r="0.78" fill="rgb(115,115,115)"/>
<circle cx="360.1" cy="425.7" r="0.77" fill="rgb(115,115,115)"/>
<circle cx="283.6" cy="432.8" r="0.47" fill="rgb(105,105,105)"/>
<circle cx="355.1" cy="433.7" r="0.42" fill="rgb(92,92,92)"/>
<circle cx="354.1" cy="422.0" r="0.41" fill="rgb(96,96,96)"/>
<circle cx="353.7" cy="377.1" r="0.84" fill="rgb(116,116,116)"/>
<circle cx="350.5" cy="440.7" r="0.81" fill="rgb(92,92,92)"/>
<circle cx="349.1" cy="391.8" r="0.87" fill="rgb(103,103,103)"/>
<circle cx="361.1" cy="417.0" r="0.94" fill="rgb(109,109,109)"/>
<circle cx="299.6" cy="406.7" r="0.57" fill="rgb(91,91,91)"/>
<circle cx="297.5" cy="420.8" r="0.75" fill="rgb(96,96,96)"/>
<circle cx="337.2" cy="417.4" r="0.81" fill="rgb(92,92,92)"/>
<circle cx="308.4" cy="432.3" r="0.69" fill="rgb(97,97,97)"/>
<circle cx="281.0" cy="414.6" r="0.54" fill="rgb(102,102,102)"/>
<circle cx="287.8" cy="393.8" r="0.89" fill="rgb(106,106,106)"/>
<circle cx="314.2" cy="390.0" r="0.53" fill="rgb(94,94,94)"/>
<circle cx="338.4" cy="381.0" r="0.64" fill="rgb(108,108,108)"/>
<circle cx="367.5" cy="403.2" r="0.80" fill="rgb(115,115,115)"/>
<circle cx="262.7" cy="382.0" r="0.84" fill="rgb(114,114,114)"/>
<circle cx="308.9" cy="391.6" r="0.80" fill="rgb(111,111,111)"/>
<circle cx="357.6" cy="445.8" r="0.84" fill="rgb(94,94,94)"/>
<circle cx="338.9" cy="423.9" r="0.69" fill="rgb(109,109,109)"/>
<circle cx="273.5" cy="453.1" r="0.73" fill="rgb(111,111,111)"/>
<circle cx="314.8" cy="443.7" r="0.42" fill="rgb(110,110,110)"/>
<circle cx="325.7" cy="400.6" r="0.80" fill="rgb(98,98,98)"/>
<circle cx="278.7" cy="386.3" r="0.83" fill="rgb(105,105,105)"/>
<circle cx="270.6" cy="389.2" r="0.44" fill="rgb(108,108,108)"/>
<circle cx="326.2" cy="439.0" r="0.78" fill="rgb(102,102,102)"/>
<circle cx="352.7" cy="425.1" r="0.69" fill="rgb(92,92,92)"/>
<circle cx="372.6" cy="380.2" r="0.57" fill="rgb(96,96,96)"/>
<circle cx="322.7" cy="429.8" r="0.92" fill="rgb(104,104,104)"/>
<circle cx="299.9" cy="441.4" r="0.40" fill="rgb(98,98,98)"/>
<circle cx="275.5" cy="417.8" r="0.69" fill="rgb(114,114,114)"/>
<circle cx="312.3" cy="427.2" r="0.56" fill="rgb(89,89,89)"/>
<circle cx="301.0" cy="431.1" r="0.49" fill="rgb(92,92,92)"/>
<circle cx="287.4" cy="428.5" r="0.87" fill="rgb(96,96,96)"/>
<circle cx="306.6" cy="390.0" r="0.83" fill="rgb(106,106,106)"/>
<circle cx="290.8" cy="387.3" r="0.59" fill="rgb(89,89,89)"/>
<circle cx="294.2" cy="409.3" r="0.44" fill="rgb(89,89,89)"/>
<circle cx="326.7" cy="370.2" r="0.83" fill="rgb(94,94,94)"/>
<circle cx="309.4" cy="454.9" r="0.61" fill="rgb(89,89,89)"/>
<circle cx="291.0" cy="407.1" r="0.48" fill="rgb(115,115,115)"/>
<circle cx="263.8" cy="401.4" r="0.49" fill="rgb(97,97,97)"/>
<circle cx="292.6" cy="403.1" r="0.42" fill="rgb(92,92,92)"/>
<circle cx="269.2" cy="411.9" r="0.72" fill="rgb(106,106,106)"/>
<circle cx="371.6" cy="373.5" r="0.69" fill="rgb(92,92,92)"/>
<circle cx="369.1" cy="374.0" r="0.49" fill="rgb(116,116,116)"/>
<circle cx="320.5" cy="380.6" r="0.40" fill="rgb(95,95,95)"/>
<circle cx="362.7" cy="428.3" r="0.45" fill="rgb(99,99,99)"/>
<circle cx="265.8" cy="392.5" r="0.85" fill="rgb(89,89,89)"/>
<circle cx="340.4" cy="427.0" r="0.91" fill="rgb(104,104,104)"/>
<circle cx="348.2" cy="435.3" r="0.51" fill="rgb(100,100,100)"/>
<circle cx="329.1" cy="441.8" r="0.89" fill="rgb(91,91,91)"/>
<circle cx="328.3" cy="450.7" r="0.82" fill="rgb(99,99,99)"/>
<circle cx="319.1" cy="395.5" r="0.93" fill="rgb(97,97,97)"/>
<circle cx="287.7" cy="401.8" r="0.91" fill="rgb(93,93,93)"/>
<circle cx="341.4" cy="379.0" r="0.79" fill="rgb(115,115,115)"/>
<circle cx="268.2" cy="398.4" r="0.75" fill="rgb(93,93,93)"/>
<circle cx="329.3" cy="441.3" r="0.79" fill="rgb(97,97,97)"/>
<circle cx="363.4" cy="373.3" r="0.45" fill="rgb(100,100,100)"/>
<circle cx="372.4" cy="410.2" r="0.55" fill="rgb(113,113,113)"/>
<circle cx="274.9" cy="395.6" r="0.69" fill="rgb(105,105,105)"/>
<circle cx="287.5" cy="398.3" r="0.92" fill="rgb(95,95,95)"/>
<circle cx="367.5" cy="451.5" r="0.61" fill="rgb(93,93,93)"/>
<circle cx="372.0" cy="435.2" r="0.67" fill="rgb(96,96,96)"/>
<circle cx="275.5" cy="419.4" r="0.93" fill="rgb(102,102,102)"/>
<circle cx="280.0" cy="402.0" r="0.66" fill="rgb(94,94,94)"/>
<circle cx="261.0" cy="447.5" r="0.67" fill="rgb(104,104,104)"/>
<circle cx="278.3" cy="378.6" r="0.72" fill="rgb(97,97,97)"/>
<circle cx="267.0" cy="447.3" r="0.71" fill="rgb(111,111,111)"/>
<circle cx="353.8" cy="388.2" r="0.81" fill="rgb(108,108,108)"/>
<circle cx="337.3" cy="372.1" r="0.69" fill="rgb(112,112,112)"/>
<circle cx="356.9" cy="382.1" r="0.86" fill="rgb(92,92,92)"/>
<circle cx="332.6" cy="432.6" r="0.64" fill="rgb(112,112,112)"/>
<circle cx="287.3" cy="411.5" r="0.73" fill="rgb(95,95,95)"/>
<circle cx="294.1" cy="413.0" r="0.71" fill="rgb(116,116,116)"/>
<circle cx="345.1" cy="399.0" r="0.52" fill="rgb(89,89,89)"/>
<circle cx="318.1" cy="455.0" r="0.53" fill="rgb(104,104,104)"/>
<circle cx="342.9" cy="378.4" r="0.90" fill="rgb(102,102,102)"/>
<circle cx="351.7" cy="441.1" r="0.77" fill="rgb(111,111,111)"/>
<circle cx="283.8" cy="394.1" r="0.45" fill="rgb(110,110,110)"/>
<circle cx="273.1" cy="432.1" r="0.73" fill="rgb(89,89,89)"/>
<circle cx="320.6" cy="382.0" r="0.80" fill="rgb(88,88,88)"/>
<circle cx="346.9" cy="445.0" r="0.61" fill="rgb(114,114,114)"/>
<circle cx="323.4" cy="438.9" r="0.68" fill="rgb(90,90,90)"/>
<circle cx="365.1" cy="407.9" r="0.92" fill="rgb(98,98,98)"/>
<circle cx="301.4" cy="380.5" r="0.51" fill="rgb(98,98,98)"/>
<circle cx="300.9" cy="376.5" r="0.66" fill="rgb(101,101,101)"/>
<circle cx="292.2" cy="449.4" r="0.41" fill="rgb(110,110,110)"/>
<circle cx="309.2" cy="405.0" r="0.71" fill="rgb(111,111,111)"/>
<circle cx="264.7" cy="391.3" r="0.40" fill="rgb(105,105,105)"/>
<circle cx="295.1" cy="395.5" r="0.93" fill="rgb(94,94,94)"/>
<circle cx="307.4" cy="418.0" r="0.41" fill="rgb(108,108,108)"/>
<circle cx="369.8" cy="377.4" r="0.46" fill="rgb(92,92,92)"/>
<circle cx="367.7" cy="417.4" r="0.75" fill="rgb(98,98,98)"/>
<circle cx="276.0" cy="371.1" r="0.78" fill="rgb(89,89,89)"/>
<circle cx="264.1" cy="407.3" r="0.94" fill="rgb(93,93,93)"/>
<circle cx="333.6" cy="430.6" r="0.79" fill="rgb(113,113,113)"/>
<circle cx="313.7" cy="413.8" r="0.46" fill="rgb(99,99,99)"/>
<circle cx="329.2" cy="414.3" r="0.69" fill="rgb(113,113,113)"/>
<circle cx="344.0" cy="377.7" r="0.83" fill="rgb(97,97,97)"/>
<circle cx="306.2" cy="390.8" r="0.55" fill="rgb(106,106,106)"/>
<circle cx="340.0" cy="405.6" r="0.56" fill="rgb(111,111,111)"/>
<circle cx="340.1" cy="378.1" r="0.76" fill="rgb(93,93,93)"/>
<circle cx="263.1" cy="380.0" r="0.81" fill="rgb(92,92,92)"/>
<circle cx="350.7" cy="388.6" r="0.57" fill="rgb(91,91,91)"/>
<circle cx="314.4" cy="421.2" r="0.43" fill="rgb(116,116,116)"/>
<circle cx="323.9" cy="405.8" r="0.79" fill="rgb(95,95,95)"/>
<circle cx="312.7" cy="442.0" r="0.47" fill="rgb(110,110,110)"/>
<circle cx="359.8" cy="377.4" r="0.46" fill="rgb(113,113,113)"/>
<circle cx="356.2" cy="392.9" r="0.41" fill="rgb(92,92,92)"/>
<circle cx="339.0" cy="424.0" r="0.48" fill="rgb(99,99,99)"/>
<circle cx="275.1" cy="447.5" r="0.41" fill="rgb(99,99,99)"/>
<circle cx="295.5" cy="399.7" r="0.51" fill="rgb(92,92,92)"/>
<circle cx="343.1" cy="418.1" r="0.75" fill="rgb(89,89,89)"/>
<circle cx="349.6" cy="421.2" r="0.82" fill="rgb(103,103,103)"/>
<circle cx="304.9" cy="387.7" r="0.48" fill="rgb(100,100,100)"/>
<circle cx="349.7" cy="404.0" r="0.62" fill="rgb(101,101,101)"/>
<circle cx="303.8" cy="376.7" r="0.53" fill="rgb(93,93,93)"/>
<circle cx="353.7" cy="420.8" r="0.71" fill="rgb(113,113,113)"/>
<circle cx="310.8" cy="378.6" r="0.87" fill="rgb(104,104,104)"/>
<circle cx="340.9" cy="433.6" r="0.89" fill="rgb(105,105,105)"/>
<circle cx="262.7" cy="431.8" r="0.41" fill="rgb(101,101,101)"/>
<circle cx="262.8" cy="393.2" r="0.63" fill="rgb(112,112,112)"/>
<circle cx="297.9" cy="433.3" r="0.65" fill="rgb(115,115,115)"/>
<circle cx="328.6" cy="407.5" r="0.51" fill="rgb(112,112,112)"/>
<circle cx="323.0" cy="374.7" r="0.62" fill="rgb(113,113,113)"/>
<circle cx="333.9" cy="386.2" r="0.88" fill="rgb(94,94,94)"/>
<circle cx="262.2" cy="429.8" r="0.65" fill="rgb(111,111,111)"/>
<circle cx="336.6" cy="403.5" r="0.90" fill="rgb(104,104,104)"/>
<circle cx="272.9" cy="452.1" r="0.45" fill="rgb(103,103,103)"/>
<circle cx="325.2" cy="408.2" r="0.91" fill="rgb(104,104,104)"/>
<circle cx="337.1" cy="370.9" r="0.79" fill="rgb(103,103,103)"/>
<circle cx="331.3" cy="390.4" r="0.46" fill="rgb(101,101,101)"/>
<circle cx="338.5" cy="417.9" r="0.51" fill="rgb(103,103,103)"/>
<circle cx="261.8" cy="440.9" r="0.51" fill="rgb(111,111,111)"/>
<circle cx="350.0" cy="414.9" r="0.48" fill="rgb(92,92,92)"/>
<circle cx="349.1" cy="431.6" r="0.41" fill="rgb(106,106,106)"/>
<circle cx="265.4" cy="384.3" r="0.66" fill="rgb(94,94,94)"/>
<circle cx="334.4" cy="412.2" r="0.73" fill="rgb(95,95,95)"/>
<circle cx="265.5" cy="436.8" r="0.44" fill="rgb(107,107,107)"/>
<circle cx="265.3" cy="415.0" r="0.50" fill="rgb(106,106,106)"/>
<circle cx="363.0" cy="432.6" r="0.61" fill="rgb(94,94,94)"/>
<circle cx="340.5" cy="446.0" r="0.77" fill="rgb(98,98,98)"/>
<circle cx="274.1" cy="423.8" r="0.75" fill="rgb(93,93,93)"/>
<circle cx="359.3" cy="441.8" r="0.72" fill="rgb(113,113,113)"/>
<circle cx="338.5" cy="437.7" r="0.78" fill="rgb(104,104,104)"/>
<circle cx="340.8" cy="413.8" r="0.49" fill="rgb(107,107,107)"/>
<circle cx="305.3" cy="436.6" r="0.56" fill="rgb(112,112,112)"/>
<circle cx="344.2" cy="379.0" r="0.64" fill="rgb(95,95,95)"/>
<circle cx="339.8" cy="439.0" r="0.50" fill="rgb(88,88,88)"/>
<circle cx="340.5" cy="409.6" r="0.52" fill="rgb(96,96,96)"/>
<circle cx="327.4" cy="448.0" r="0.79" fill="rgb(116,116,116)"/>
<circle cx="257.8" cy="436.8" r="0.72" fill="rgb(101,101,101)"/>
<circle cx="295.7" cy="454.2" r="0.41" fill="rgb(100,100,100)"/>
<circle cx="288.9" cy="381.7" r="0.88" fill="rgb(102,102,102)"/>
<circle cx="261.0" cy="442.3" r="0.44" fill="rgb(99,99,99)"/>
<circle cx="267.5" cy="435.4" r="0.82" fill="rgb(93,93,93)"/>
<circle cx="343.6" cy="411.5" r="0.71" fill="rgb(106,106,106)"/>
<circle cx="340.0" cy="409.8" r="0.79" fill="rgb(107,107,107)"/>
<ellipse cx="320.8" cy="395.8" rx="4.2" ry="4.2" fill="#343434"/>
<ellipse cx="321.0" cy="396.0" rx="1.51" ry="1.51" fill="#525252"/>
<ellipse cx="294.7" cy="416" rx="4.2" ry="4.2" fill="#323232"/>
<ellipse cx="294.9" cy="416.2" rx="1.51" ry="1.51" fill="#525252"/>
<ellipse cx="311.5" cy="421.2" rx="3.5" ry="3.5" fill="#343434"/>
<ellipse cx="311.7" cy="421.4" rx="1.26" ry="1.26" fill="#525252"/>
<ellipse cx="289.6" cy="405.8" rx="2.8" ry="2.8" fill="#404040"/>
<ellipse cx="289.8" cy="406.0" rx="1.01" ry="1.01" fill="#525252"/>
<ellipse cx="355.4" cy="375.8" rx="3.2" ry="3.2" fill="#3c3c3c"/>
<ellipse cx="355.59999999999997" cy="376.0" rx="1.15" ry="1.15" fill="#525252"/>
<ellipse cx="305" cy="376.2" rx="2.5" ry="2.5" fill="#484848"/>
<ellipse cx="285.5" cy="378" rx="2.0" ry="2.0" fill="#505050"/>
<ellipse cx="276.5" cy="424.7" rx="2.5" ry="2.5" fill="#4a4a4a"/>
<ellipse cx="277.4" cy="429.8" rx="2.5" ry="2.5" fill="#484848"/>
<ellipse cx="266.5" cy="408" rx="2.3" ry="2.3" fill="#525252"/>
<ellipse cx="272.8" cy="390.8" rx="1.8" ry="1.8" fill="#585858"/>
<ellipse cx="352.4" cy="434.6" rx="2.8" ry="2.8" fill="#404040"/>
<ellipse cx="335.3" cy="434" rx="3.0" ry="1.6" fill="#5a5a5a" transform="rotate(-35 335.3 434)"/>
<ellipse cx="259" cy="446.6" rx="2.4" ry="3.4" fill="#444"/>
<ellipse cx="292" cy="452" rx="2.0" ry="2.0" fill="#525252"/>
<ellipse cx="302.3" cy="454.2" rx="2.0" ry="2.0" fill="#5a5a5a"/>
<ellipse cx="345" cy="454.2" rx="2.0" ry="2.0" fill="#525252"/>
<ellipse cx="347.3" cy="427.5" rx="1.8" ry="1.8" fill="#585858"/>
<ellipse cx="364.6" cy="395.8" rx="2.2" ry="1.5" fill="#5a5a5a" transform="rotate(-30 364.6 395.8)"/>
<ellipse cx="331.2" cy="417.8" rx="1.5" ry="1.5" fill="#606060"/>
<ellipse cx="337" cy="415.5" rx="1.2" ry="1.2" fill="#606060"/>
<ellipse cx="265.4" cy="427.5" rx="1.5" ry="1.5" fill="#5a5a5a"/>
<ellipse cx="266.5" cy="369.9" rx="2.0" ry="2.0" fill="#484848"/>
<ellipse cx="328.4" cy="376.2" rx="1.5" ry="1.5" fill="#5c5c5c"/>
<ellipse cx="372.7" cy="420" rx="1.5" ry="1.5" fill="#555"/>
<ellipse cx="368" cy="444.3" rx="1.8" ry="1.8" fill="#555"/>
<ellipse cx="365.8" cy="423.5" rx="1.8" ry="1.2" fill="#5c5c5c" transform="rotate(-30 365.8 423.5)"/>
<ellipse cx="324.2" cy="402" rx="1.3" ry="1.3" fill="#555"/>
<ellipse cx="309.2" cy="390" rx="1.0" ry="1.0" fill="#646464"/>
<ellipse cx="331.8" cy="387.8" rx="1.0" ry="1.0" fill="#646464"/>
<ellipse cx="308" cy="384.3" rx="1.0" ry="1.0" fill="#646464"/>
<ellipse cx="297.7" cy="428.8" rx="1.0" ry="1.0" fill="#646464"/>
<ellipse cx="311" cy="429.3" rx="1.2" ry="1.2" fill="#646464"/>
<ellipse cx="318.5" cy="427.5" rx="1.0" ry="1.0" fill="#646464"/>
<ellipse cx="283.8" cy="432.8" rx="1.0" ry="1.0" fill="#646464"/>
<ellipse cx="332.3" cy="442" rx="1.2" ry="1.2" fill="#646464"/>
<ellipse cx="307" cy="440.4" rx="1.0" ry="1.0" fill="#646464"/>
<ellipse cx="319" cy="447.8" rx="1.0" ry="1.0" fill="#646464"/>
<ellipse cx="356" cy="449.6" rx="1.0" ry="1.0" fill="#646464"/>
<ellipse cx="369.7" cy="370.5" rx="1.5" ry="1.5" fill="#585858"/>
<ellipse cx="356.5" cy="399.3" rx="1.0" ry="1.0" fill="#646464"/>
<ellipse cx="350.8" cy="391.2" rx="1.0" ry="1.0" fill="#646464"/>
<ellipse cx="275.8" cy="409.7" rx="1.0" ry="1.0" fill="#646464"/>
<ellipse cx="262" cy="396.5" rx="1.0" ry="1.0" fill="#646464"/>
<ellipse cx="280.8" cy="396.5" rx="1.0" ry="1.0" fill="#646464"/>
<ellipse cx="300" cy="392" rx="1.0" ry="1.0" fill="#646464"/>
<ellipse cx="340" cy="405" rx="1.0" ry="1.0" fill="#646464"/>
<ellipse cx="360" cy="412" rx="1.0" ry="1.0" fill="#646464"/>
<ellipse cx="315" cy="445" rx="1.0" ry="1.0" fill="#646464"/>
<ellipse cx="277" cy="440" rx="1.1" ry="1.1" fill="#646464"/>
</g>
<line x1="343" y1="439" x2="367.7" y2="439" stroke="#fff" stroke-width="1.7"/>
</g>
<clipPath id="clip4"><rect x="380.9" y="368.8" width="116.6" height="87.8"/></clipPath>
<g clip-path="url(#clip4)">
<rect x="380.9" y="368.8" width="116.6" height="87.8" fill="#7f7f7f"/>
<rect x="380.9" y="368.8" width="116.6" height="87.8" fill="url(#g4a)"/>
<rect x="380.9" y="368.8" width="116.6" height="87.8" fill="#7f7f7f" filter="url(#noise)" opacity="0.16"/>
<g filter="url(#b2)">
<ellipse cx="437.2" cy="392.4" rx="6.5" ry="6.5" fill="#666"/>
<ellipse cx="411.2" cy="383.2" rx="4.6" ry="4.6" fill="#555"/>
</g>
<g filter="url(#rough)">
<circle cx="394.1" cy="430.1" r="0.76" fill="rgb(89,89,89)"/>
<circle cx="413.0" cy="391.7" r="0.80" fill="rgb(103,103,103)"/>
<circle cx="433.4" cy="409.8" r="0.88" fill="rgb(94,94,94)"/>
<circle cx="471.0" cy="380.0" r="0.52" fill="rgb(92,92,92)"/>
<circle cx="422.9" cy="392.1" r="0.84" fill="rgb(102,102,102)"/>
<circle cx="441.1" cy="383.6" r="0.77" fill="rgb(90,90,90)"/>
<circle cx="400.8" cy="425.7" r="0.47" fill="rgb(92,92,92)"/>
<circle cx="385.1" cy="393.3" r="0.87" fill="rgb(94,94,94)"/>
<circle cx="428.2" cy="454.8" r="0.64" fill="rgb(101,101,101)"/>
<circle cx="392.7" cy="424.8" r="0.89" fill="rgb(100,100,100)"/>
<circle cx="449.4" cy="424.2" r="0.50" fill="rgb(85,85,85)"/>
<circle cx="467.5" cy="411.6" r="0.77" fill="rgb(90,90,90)"/>
<circle cx="433.8" cy="388.5" r="0.84" fill="rgb(98,98,98)"/>
<circle cx="411.1" cy="380.2" r="0.95" fill="rgb(90,90,90)"/>
<circle cx="414.1" cy="372.2" r="0.81" fill="rgb(85,85,85)"/>
<circle cx="460.5" cy="420.1" r="0.63" fill="rgb(103,103,103)"/>
<circle cx="401.2" cy="403.0" r="0.57" fill="rgb(96,96,96)"/>
<circle cx="432.0" cy="420.9" r="0.45" fill="rgb(97,97,97)"/>
<circle cx="427.1" cy="408.3" r="0.74" fill="rgb(97,97,97)"/>
<circle cx="389.5" cy="382.1" r="0.79" fill="rgb(100,100,100)"/>
<circle cx="432.5" cy="440.6" r="0.62" fill="rgb(95,95,95)"/>
<circle cx="384.3" cy="430.7" r="0.60" fill="rgb(97,97,97)"/>
<circle cx="412.1" cy="395.7" r="0.50" fill="rgb(102,102,102)"/>
<circle cx="446.1" cy="438.2" r="0.45" fill="rgb(85,85,85)"/>
<circle cx="385.9" cy="396.6" r="0.94" fill="rgb(100,100,100)"/>
<circle cx="440.0" cy="414.6" r="0.84" fill="rgb(90,90,90)"/>
<circle cx="394.9" cy="451.9" r="0.83" fill="rgb(82,82,82)"/>
<circle cx="408.3" cy="444.7" r="0.55" fill="rgb(89,89,89)"/>
<circle cx="405.7" cy="428.2" r="0.58" fill="rgb(105,105,105)"/>
<circle cx="469.2" cy="401.4" r="0.71" fill="rgb(101,101,101)"/>
<circle cx="466.8" cy="437.3" r="0.49" fill="rgb(102,102,102)"/>
<circle cx="478.3" cy="401.2" r="0.61" fill="rgb(94,94,94)"/>
<circle cx="444.5" cy="436.2" r="0.57" fill="rgb(101,101,101)"/>
<circle cx="385.5" cy="425.0" r="0.64" fill="rgb(106,106,106)"/>
<circle cx="420.8" cy="392.3" r="0.46" fill="rgb(88,88,88)"/>
<circle cx="388.2" cy="449.5" r="0.52" fill="rgb(97,97,97)"/>
<circle cx="433.2" cy="416.5" r="0.61" fill="rgb(107,107,107)"/>
<circle cx="394.1" cy="430.2" r="0.70" fill="rgb(95,95,95)"/>
<circle cx="396.7" cy="388.9" r="0.48" fill="rgb(105,105,105)"/>
<circle cx="401.6" cy="371.3" r="0.90" fill="rgb(102,102,102)"/>
<circle cx="480.5" cy="440.2" r="0.95" fill="rgb(101,101,101)"/>
<circle cx="457.2" cy="417.6" r="0.43" fill="rgb(95,95,95)"/>
<circle cx="435.6" cy="452.1" r="0.58" fill="rgb(84,84,84)"/>
<circle cx="480.9" cy="375.1" r="0.77" fill="rgb(102,102,102)"/>
<circle cx="444.1" cy="378.1" r="0.88" fill="rgb(95,95,95)"/>
<circle cx="478.1" cy="379.7" r="0.43" fill="rgb(102,102,102)"/>
<circle cx="488.6" cy="375.6" r="0.84" fill="rgb(91,91,91)"/>
<circle cx="387.0" cy="454.2" r="0.89" fill="rgb(86,86,86)"/>
<circle cx="382.5" cy="408.4" r="0.83" fill="rgb(97,97,97)"/>
<circle cx="464.2" cy="371.5" r="0.44" fill="rgb(90,90,90)"/>
<circle cx="410.3" cy="428.2" r="0.76" fill="rgb(82,82,82)"/>
<circle cx="444.7" cy="438.1" r="0.80" fill="rgb(82,82,82)"/>
<circle cx="488.3" cy="447.1" r="0.87" fill="rgb(94,94,94)"/>
<circle cx="425.7" cy="395.0" r="0.80" fill="rgb(92,92,92)"/>
<circle cx="385.3" cy="381.5" r="0.93" fill="rgb(107,107,107)"/>
<circle cx="470.0" cy="396.5" r="0.52" fill="rgb(100,100,100)"/>
<circle cx="477.6" cy="407.8" r="0.90" fill="rgb(84,84,84)"/>
<circle cx="496.4" cy="399.0" r="0.61" fill="rgb(101,101,101)"/>
<circle cx="430.3" cy="428.2" r="0.93" fill="rgb(95,95,95)"/>
<circle cx="493.2" cy="436.9" r="0.61" fill="rgb(104,104,104)"/>
<circle cx="436.5" cy="403.1" r="0.69" fill="rgb(85,85,85)"/>
<circle cx="469.0" cy="440.8" r="0.51" fill="rgb(84,84,84)"/>
<circle cx="410.2" cy="377.6" r="0.88" fill="rgb(99,99,99)"/>
<circle cx="387.7" cy="386.1" r="0.85" fill="rgb(101,101,101)"/>
<circle cx="456.3" cy="436.3" r="0.63" fill="rgb(89,89,89)"/>
<circle cx="485.0" cy="375.7" r="0.44" fill="rgb(104,104,104)"/>
<circle cx="402.9" cy="401.8" r="0.78" fill="rgb(94,94,94)"/>
<circle cx="394.2" cy="401.0" r="0.52" fill="rgb(103,103,103)"/>
<circle cx="421.8" cy="412.5" r="0.86" fill="rgb(91,91,91)"/>
<circle cx="387.6" cy="422.1" r="0.65" fill="rgb(108,108,108)"/>
<circle cx="413.4" cy="447.4" r="0.69" fill="rgb(86,86,86)"/>
<circle cx="388.3" cy="372.4" r="0.57" fill="rgb(93,93,93)"/>
<circle cx="454.7" cy="401.5" r="0.93" fill="rgb(87,87,87)"/>
<circle cx="397.0" cy="455.5" r="0.52" fill="rgb(106,106,106)"/>
<circle cx="389.5" cy="381.1" r="0.72" fill="rgb(91,91,91)"/>
<ellipse cx="411.2" cy="383.2" rx="3.4" ry="3.4" fill="#303030"/>
<ellipse cx="437.2" cy="392.4" rx="3.6" ry="3.6" fill="#222"/>
<ellipse cx="428" cy="376.2" rx="2.6" ry="3.2" fill="#505050"/>
<ellipse cx="425" cy="386.6" rx="1.5" ry="3.2" fill="#525252" transform="rotate(30 425 386.6)"/>
<ellipse cx="422.7" cy="391.2" rx="1.4" ry="1.4" fill="#555"/>
<ellipse cx="427.3" cy="406.2" rx="5.0" ry="6.2" fill="#444"/>
<ellipse cx="431.5" cy="401.6" rx="2.6" ry="2.6" fill="#505050"/>
<ellipse cx="424.5" cy="411" rx="3.4" ry="2.6" fill="#464646"/>
<ellipse cx="415.8" cy="420" rx="4.8" ry="3.6" fill="#464646"/>
<ellipse cx="412.5" cy="417.5" rx="2.0" ry="2.0" fill="#484848"/>
<ellipse cx="427.3" cy="425.8" rx="3.4" ry="3.4" fill="#4a4a4a"/>
<ellipse cx="438.8" cy="415.5" rx="3.2" ry="3.2" fill="#484848"/>
<ellipse cx="435.4" cy="404" rx="2.0" ry="2.0" fill="#505050"/>
<ellipse cx="440" cy="435" rx="4.2" ry="5.0" fill="#464646"/>
<ellipse cx="437.7" cy="446.6" rx="4.8" ry="4.2" fill="#424242"/>
<ellipse cx="442.5" cy="441" rx="2.2" ry="2.2" fill="#444"/>
<ellipse cx="468.8" cy="429.3" rx="3.6" ry="6.2" fill="#464646"/>
<ellipse cx="470.5" cy="425.5" rx="2.6" ry="2.6" fill="#484848"/>
<ellipse cx="474.6" cy="391.2" rx="2.7" ry="2.7" fill="#464646"/>
<ellipse cx="490.3" cy="394.7" rx="2.0" ry="2.0" fill="#4a4a4a"/>
<ellipse cx="494.2" cy="385" rx="2.0" ry="2.0" fill="#4c4c4c"/>
<ellipse cx="450.4" cy="385" rx="1.2" ry="1.2" fill="#505050"/>
<ellipse cx="488" cy="419" rx="1.5" ry="1.5" fill="#505050"/>
<ellipse cx="487.3" cy="423.5" rx="1.2" ry="1.2" fill="#505050"/>
<ellipse cx="462" cy="417.3" rx="1.2" ry="1.2" fill="#505050"/>
<ellipse cx="387.6" cy="425.8" rx="1.2" ry="1.2" fill="#505050"/>
<ellipse cx="413.5" cy="439" rx="1.2" ry="1.2" fill="#505050"/>
<ellipse cx="422.7" cy="445.5" rx="1.2" ry="1.2" fill="#505050"/>
<ellipse cx="402" cy="438.5" rx="1.0" ry="1.0" fill="#505050"/>
<ellipse cx="390.4" cy="450.5" rx="1.2" ry="1.2" fill="#505050"/>
<ellipse cx="412.3" cy="408.5" rx="2.0" ry="2.0" fill="#505050"/>
<ellipse cx="414.6" cy="399.3" rx="1.5" ry="1.5" fill="#555"/>
<ellipse cx="477" cy="401.6" rx="1.0" ry="1.0" fill="#505050"/>
<ellipse cx="449.2" cy="440.8" rx="1.0" ry="1.0" fill="#505050"/>
<ellipse cx="456.2" cy="441.3" rx="1.0" ry="1.0" fill="#505050"/>
<ellipse cx="410" cy="434" rx="1.0" ry="1.0" fill="#505050"/>
<ellipse cx="383.5" cy="390" rx="1.0" ry="1.0" fill="#505050"/>
<ellipse cx="417" cy="429.3" rx="1.0" ry="1.0" fill="#505050"/>
<ellipse cx="444.6" cy="399.3" rx="1.0" ry="1.0" fill="#505050"/>
<ellipse cx="447" cy="392.4" rx="1.0" ry="1.0" fill="#505050"/>
<ellipse cx="462" cy="386.6" rx="1.0" ry="1.0" fill="#505050"/>
<ellipse cx="382.3" cy="429.3" rx="1.0" ry="1.0" fill="#505050"/>
</g>
<line x1="466" y1="438.5" x2="491.7" y2="438.5" stroke="#fff" stroke-width="1.7"/>
</g>
</g>
<g id="panelE">
<text x="3.2" y="502.0" font-size="17" font-weight="bold" stroke="#000" stroke-width="0.3">E</text>
<line x1="51.5" y1="619" x2="51.5" y2="504.6" stroke="#000" stroke-width="1.8"/>
<polyline points="47.5,510.4 51.5,504.2 55.5,510.4" fill="none" stroke="#000" stroke-width="1.7"/>
<text x="42.4" y="575.9" font-size="12.6" font-weight="bold" transform="rotate(-90 42.4 575.9)" textLength="39" lengthAdjust="spacingAndGlyphs">Events</text>
<line x1="66.9" y1="627.2" x2="187" y2="627.2" stroke="#000" stroke-width="1.8"/>
<polygon points="185.6,623.6 192.6,627.2 185.6,630.8" fill="#000"/>
<text x="108.1" y="644.7" font-size="12.2" textLength="56.5" lengthAdjust="spacingAndGlyphs">PE-<tspan font-family='"Liberation Serif", "DejaVu Serif", serif' font-size="12.8">γδ</tspan>TCR</text>
<rect x="65.8" y="501.9" width="133.8" height="103.4" fill="#fff" stroke="#aaa" stroke-width="0.7"/>
<line x1="65.7" y1="501.6" x2="65.7" y2="605.8" stroke="#111" stroke-width="1.2"/>
<line x1="64.2" y1="501.9" x2="65.8" y2="501.9" stroke="#111" stroke-width="0.9"/>
<line x1="64.2" y1="527.6" x2="65.8" y2="527.6" stroke="#111" stroke-width="0.9"/>
<line x1="64.2" y1="553.5" x2="65.8" y2="553.5" stroke="#111" stroke-width="0.9"/>
<line x1="64.2" y1="579.4" x2="65.8" y2="579.4" stroke="#111" stroke-width="0.9"/>
<line x1="64.2" y1="605.3" x2="65.8" y2="605.3" stroke="#111" stroke-width="0.9"/>
<line x1="65.2" y1="605.4" x2="199.9" y2="605.4" stroke="#111" stroke-width="1.1"/>
<polygon points="66.2,605.2 66.2,563.8 66.7,564.9 67.2,560.1 67.7,567.3 68.2,565.2 68.7,563.9 69.2,567.4 69.7,563.3 70.2,559.7 70.7,560.2 71.2,562.1 71.7,555.5 72.2,551.4 72.7,546.3 73.2,555.5 73.7,547.7 74.2,535.2 74.7,530.9 75.2,544.9 75.7,531.7 76.2,538.5 76.7,535.0 77.2,531.8 77.7,526.2 78.2,517.3 78.7,515.6 79.2,513.4 79.7,516.1 80.2,518.1 80.7,519.0 81.2,512.0 81.7,519.6 82.2,512.1 82.7,508.5 83.2,504.8 83.7,510.6 84.2,515.0 84.7,507.7 85.2,518.0 85.7,508.2 86.2,516.8 86.7,520.6 87.2,517.1 87.7,513.0 88.2,518.5 88.7,517.7 89.2,520.9 89.7,527.9 90.2,533.7 90.7,532.7 91.2,523.8 91.7,533.0 92.2,542.4 92.7,544.8 93.2,545.3 93.7,541.6 94.2,551.0 94.7,543.5 95.2,551.9 95.7,553.1 96.2,557.7 96.7,555.1 97.2,562.3 97.7,566.8 98.2,566.8 98.7,567.2 99.2,567.4 99.7,571.2 100.2,581.0 100.7,574.1 101.2,580.5 101.7,576.6 102.2,577.4 102.7,581.7 103.2,584.5 103.7,586.4 104.2,583.5 104.7,585.5 105.2,586.5 105.7,587.5 106.2,586.5 106.7,590.9 107.2,590.5 107.7,592.5 108.2,593.4 108.7,593.3 109.2,595.6 109.7,596.1 110.2,598.4 110.7,598.6 111.2,599.2 111.7,599.0 112.2,599.4 112.7,599.4 113.2,600.4 113.7,601.0 114.2,599.8 114.7,602.8 115.2,603.2 115.7,603.0 116.2,602.3 116.7,603.4 117.2,603.9 117.7,604.4 118.2,602.5 118.7,604.3 119.2,605.0 119.7,604.2 120.2,605.1 120.7,604.7 121.2,603.7 121.7,605.2 122.2,605.1 122.2,605.2" fill="#636363" stroke="#999" stroke-width="0.7" stroke-linejoin="round"/>
<polyline points="67.7,603.8 68.1,603.3 68.6,604.4 69.0,605.2 69.5,603.9 69.9,604.0 70.4,603.1 70.8,603.3 71.3,604.5 71.7,601.9 72.2,603.3 72.6,601.1 73.1,598.9 73.5,599.7 74.0,600.0 74.4,604.4 74.9,601.9 75.3,601.3 75.8,602.3 76.2,600.8 76.7,600.9 77.1,598.8 77.6,598.9 78.0,600.3 78.5,600.6 78.9,599.8 79.4,599.3 79.8,597.6 80.3,597.6 80.7,596.7 81.2,596.9 81.6,598.3 82.1,598.6 82.5,598.0 83.0,595.7 83.4,593.8 83.9,594.3 84.3,596.8 84.8,599.3 85.2,598.2 85.7,598.7 86.1,598.2 86.6,595.6 87.0,595.4 87.5,597.5 87.9,598.4 88.4,598.5 88.8,597.7 89.3,595.6 89.7,594.8 90.2,592.5 90.6,591.5 91.1,592.8 91.5,592.0 92.0,590.8 92.4,589.0 92.9,588.0 93.3,588.7 93.8,586.9 94.2,585.1 94.7,586.3 95.1,582.4 95.6,585.0 96.0,581.8 96.5,580.9 96.9,587.1 97.4,585.3 97.8,580.1 98.3,582.9 98.7,578.3 99.2,575.7 99.6,573.6 100.1,571.0 100.5,571.2 101.0,568.2 101.4,567.6 101.9,566.2 102.3,566.6 102.8,564.9 103.2,570.9 103.7,564.1 104.1,570.1 104.6,559.8 105.0,555.3 105.5,561.8 105.9,561.2 106.4,557.1 106.8,556.2 107.3,559.4 107.7,554.4 108.2,553.5 108.6,550.2 109.1,544.2 109.5,551.6 110.0,543.5 110.4,544.3 110.9,542.5 111.3,551.0 111.8,538.9 112.2,531.9 112.7,518.6 113.1,531.5 113.6,548.6 114.0,548.0 114.5,544.9 114.9,549.7 115.4,547.8 115.8,535.2 116.3,527.6 116.7,537.2 117.2,536.8 117.6,552.7 118.1,556.4 118.5,547.8 119.0,554.4 119.4,553.7 119.9,553.4 120.3,554.0 120.8,555.0 121.2,559.8 121.7,561.4 122.1,553.6 122.6,552.3 123.0,546.5 123.5,554.3 123.9,554.5 124.4,555.1 124.8,555.1 125.3,544.0 125.7,546.6 126.2,545.1 126.6,549.2 127.1,550.2 127.5,557.9 128.0,559.6 128.4,554.7 128.9,557.3 129.3,561.9 129.8,565.9 130.2,564.6 130.7,570.5 131.1,564.6 131.6,567.7 132.0,568.2 132.5,568.8 132.9,564.4 133.4,562.7 133.8,565.7 134.3,569.8 134.7,570.3 135.2,571.2 135.6,577.0 136.1,574.4 136.5,578.0 137.0,579.4 137.4,572.8 137.9,570.2 138.3,568.9 138.8,570.6 139.2,572.5 139.7,576.8 140.1,582.1 140.6,577.4 141.0,577.3 141.5,573.9 141.9,565.6 142.4,560.4 142.8,552.9 143.3,564.0 143.7,572.6 144.2,581.8 144.6,582.9 145.1,586.2 145.5,586.4 146.0,588.9 146.4,586.1 146.9,588.6 147.3,589.2 147.8,591.8 148.2,589.7 148.7,593.2 149.1,592.2 149.6,593.0 150.0,594.5 150.5,595.3 150.9,596.3 151.4,598.1 151.8,597.2 152.3,597.5 152.7,598.8 153.2,599.8 153.6,600.6 154.1,602.1 154.5,601.9 155.0,603.6 155.4,602.7 155.9,603.5 156.3,603.1 156.8,604.5 157.2,604.9 157.7,605.1 158.1,603.5 158.6,605.0 159.0,605.1 159.5,605.2 159.9,605.1 160.4,605.2 160.8,603.9 161.3,605.2 161.7,605.2 162.2,605.2" fill="none" stroke="#000" stroke-width="1.7" stroke-linejoin="round"/>
<text x="64.2" y="503.09999999999997" font-size="3.4" text-anchor="end" fill="#111">40</text>
<text x="64.2" y="528.8000000000001" font-size="3.4" text-anchor="end" fill="#111">30</text>
<text x="64.2" y="554.7" font-size="3.4" text-anchor="end" fill="#111">20</text>
<text x="64.2" y="580.6" font-size="3.4" text-anchor="end" fill="#111">10</text>
<text x="64.2" y="606.6" font-size="3.4" text-anchor="end" fill="#111">0</text>
<text x="58.4" y="553.5" font-size="3.4" text-anchor="middle" transform="rotate(-90 58.4 553.5)" fill="#111">Count</text>
<text x="67.7" y="610.6" font-size="3.6" text-anchor="middle" fill="#111">10<tspan font-size="2.4" dy="-1.3">0</tspan></text>
<text x="109.7" y="610.6" font-size="3.6" text-anchor="middle" fill="#111">10<tspan font-size="2.4" dy="-1.3">1</tspan></text>
<text x="151.5" y="610.6" font-size="3.6" text-anchor="middle" fill="#111">10<tspan font-size="2.4" dy="-1.3">2</tspan></text>
<text x="194.0" y="610.6" font-size="3.6" text-anchor="middle" fill="#111">10<tspan font-size="2.4" dy="-1.3">3</tspan></text>
<text x="133.2" y="617.2" font-size="3.5" text-anchor="middle" fill="#111">PE-gdTCR</text>
<line x1="125.4" y1="511.4" x2="94.7103198509548" y2="516.7665014468275" stroke="#000" stroke-width="1.3"/>
<polygon points="88.8,517.8 94.2,514.1 95.2,519.4" fill="#000"/>
<line x1="149.9" y1="548.2" x2="131.82513068127054" y2="552.661997028473" stroke="#000" stroke-width="1.3"/>
<polygon points="126.0,554.1 131.2,550.0 132.5,555.3" fill="#000"/>
<text x="140.9" y="512.7" font-size="10" font-weight="bold" textLength="25.7" lengthAdjust="spacingAndGlyphs">Mock</text>
<text x="146.3" y="543.4" font-family='"Liberation Serif", "DejaVu Serif", serif' font-weight="bold" font-size="10.8" textLength="15" lengthAdjust="spacingAndGlyphs">γ9δ</text>
<text x="161.5" y="543.4" font-size="10" font-weight="bold" textLength="41.5" lengthAdjust="spacingAndGlyphs">2TCR-P5</text>
</g>
<g id="panelF">
<text x="250.0" y="502.5" font-size="17" font-weight="bold" stroke="#000" stroke-width="0.3">F</text>
<text x="262.6" y="616.2" font-size="9.8" font-weight="bold" transform="rotate(-90 262.6 616.2)" textLength="108.8" lengthAdjust="spacingAndGlyphs">IFN<tspan font-size="7.8" dy="1">γ</tspan><tspan dy="-1"> spots/15000 cells</tspan></text>
<line x1="294.90000000000003" y1="608.0" x2="294.90000000000003" y2="613.6" stroke="#000" stroke-width="1.3"/>
<line x1="293.00000000000006" y1="608.0" x2="296.8" y2="608.0" stroke="#000" stroke-width="1.3"/>
<rect x="292.90" y="613.60" width="4.20" height="9.40" fill="#fff" stroke="#000" stroke-width="1.4"/>
<rect x="299.20" y="501.40" width="6.00" height="121.60" fill="#000" stroke="#000" stroke-width="1.0"/>
<line x1="321.50000000000006" y1="620.6" x2="321.50000000000006" y2="621.2" stroke="#000" stroke-width="1.3"/>
<line x1="319.6000000000001" y1="620.6" x2="323.40000000000003" y2="620.6" stroke="#000" stroke-width="1.3"/>
<line x1="328.90000000000003" y1="619.8" x2="328.90000000000003" y2="620.4" stroke="#000" stroke-width="1.3"/>
<line x1="327.00000000000006" y1="619.8" x2="330.8" y2="619.8" stroke="#000" stroke-width="1.3"/>
<rect x="319.50" y="621.20" width="4.20" height="1.80" fill="#fff" stroke="#000" stroke-width="1.4"/>
<rect x="325.80" y="620.40" width="6.00" height="2.60" fill="#000" stroke="#000" stroke-width="1.0"/>
<line x1="348.1" y1="617.4" x2="348.1" y2="618.0" stroke="#000" stroke-width="1.3"/>
<line x1="346.20000000000005" y1="617.4" x2="350.0" y2="617.4" stroke="#000" stroke-width="1.3"/>
<line x1="355.5" y1="616.8" x2="355.5" y2="617.6" stroke="#000" stroke-width="1.3"/>
<line x1="353.6" y1="616.8" x2="357.4" y2="616.8" stroke="#000" stroke-width="1.3"/>
<rect x="346.10" y="618.00" width="4.20" height="5.00" fill="#fff" stroke="#000" stroke-width="1.4"/>
<rect x="352.40" y="617.60" width="6.00" height="5.40" fill="#000" stroke="#000" stroke-width="1.0"/>
<line x1="374.70000000000005" y1="611.5" x2="374.70000000000005" y2="613.6" stroke="#000" stroke-width="1.3"/>
<line x1="372.80000000000007" y1="611.5" x2="376.6" y2="611.5" stroke="#000" stroke-width="1.3"/>
<line x1="382.1" y1="573.2" x2="382.1" y2="576.2" stroke="#000" stroke-width="1.3"/>
<line x1="380.20000000000005" y1="573.2" x2="384.0" y2="573.2" stroke="#000" stroke-width="1.3"/>
<rect x="372.70" y="613.60" width="4.20" height="9.40" fill="#fff" stroke="#000" stroke-width="1.4"/>
<rect x="379.00" y="576.20" width="6.00" height="46.80" fill="#000" stroke="#000" stroke-width="1.0"/>
<line x1="401.30000000000007" y1="619.0" x2="401.30000000000007" y2="619.9" stroke="#000" stroke-width="1.3"/>
<line x1="399.4000000000001" y1="619.0" x2="403.20000000000005" y2="619.0" stroke="#000" stroke-width="1.3"/>
<line x1="408.70000000000005" y1="606.6" x2="408.70000000000005" y2="610.3" stroke="#000" stroke-width="1.3"/>
<line x1="406.80000000000007" y1="606.6" x2="410.6" y2="606.6" stroke="#000" stroke-width="1.3"/>
<rect x="399.30" y="619.90" width="4.20" height="3.10" fill="#fff" stroke="#000" stroke-width="1.4"/>
<rect x="405.60" y="610.30" width="6.00" height="12.70" fill="#000" stroke="#000" stroke-width="1.0"/>
<line x1="427.90000000000003" y1="617.0" x2="427.90000000000003" y2="619.4" stroke="#000" stroke-width="1.3"/>
<line x1="426.00000000000006" y1="617.0" x2="429.8" y2="617.0" stroke="#000" stroke-width="1.3"/>
<line x1="435.3" y1="616.6" x2="435.3" y2="617.4" stroke="#000" stroke-width="1.3"/>
<line x1="433.40000000000003" y1="616.6" x2="437.2" y2="616.6" stroke="#000" stroke-width="1.3"/>
<rect x="425.90" y="619.40" width="4.20" height="3.60" fill="#fff" stroke="#000" stroke-width="1.4"/>
<rect x="432.20" y="617.40" width="6.00" height="5.60" fill="#000" stroke="#000" stroke-width="1.0"/>
<line x1="454.50000000000006" y1="615.2" x2="454.50000000000006" y2="615.8" stroke="#000" stroke-width="1.3"/>
<line x1="452.6000000000001" y1="615.2" x2="456.40000000000003" y2="615.2" stroke="#000" stroke-width="1.3"/>
<line x1="461.90000000000003" y1="552.6" x2="461.90000000000003" y2="554.8" stroke="#000" stroke-width="1.3"/>
<line x1="460.00000000000006" y1="552.6" x2="463.8" y2="552.6" stroke="#000" stroke-width="1.3"/>
<rect x="452.50" y="615.80" width="4.20" height="7.20" fill="#fff" stroke="#000" stroke-width="1.4"/>
<rect x="458.80" y="554.80" width="6.00" height="68.20" fill="#000" stroke="#000" stroke-width="1.0"/>
<line x1="290.7" y1="500.4" x2="290.7" y2="623.7" stroke="#000" stroke-width="1.5"/>
<line x1="286" y1="623.0" x2="475" y2="623.0" stroke="#000" stroke-width="1.5"/>
<line x1="286" y1="623.0" x2="290.7" y2="623.0" stroke="#000" stroke-width="1.4"/>
<text x="285.3" y="626.1" font-size="8.8" font-weight="bold" text-anchor="end">0</text>
<line x1="286" y1="598.6" x2="290.7" y2="598.6" stroke="#000" stroke-width="1.4"/>
<text x="285.3" y="601.7" font-size="8.8" font-weight="bold" text-anchor="end">100</text>
<line x1="286" y1="574.2" x2="290.7" y2="574.2" stroke="#000" stroke-width="1.4"/>
<text x="285.3" y="577.3000000000001" font-size="8.8" font-weight="bold" text-anchor="end">200</text>
<line x1="286" y1="549.8" x2="290.7" y2="549.8" stroke="#000" stroke-width="1.4"/>
<text x="285.3" y="552.9" font-size="8.8" font-weight="bold" text-anchor="end">300</text>
<line x1="286" y1="525.4" x2="290.7" y2="525.4" stroke="#000" stroke-width="1.4"/>
<text x="285.3" y="528.5" font-size="8.8" font-weight="bold" text-anchor="end">400</text>
<line x1="286" y1="501.0" x2="290.7" y2="501.0" stroke="#000" stroke-width="1.4"/>
<text x="285.3" y="504.1" font-size="8.8" font-weight="bold" text-anchor="end">500</text>
<line x1="300.8" y1="623.0" x2="300.8" y2="627.6" stroke="#000" stroke-width="1.4"/>
<line x1="327.40000000000003" y1="623.0" x2="327.40000000000003" y2="627.6" stroke="#000" stroke-width="1.4"/>
<line x1="354.0" y1="623.0" x2="354.0" y2="627.6" stroke="#000" stroke-width="1.4"/>
<line x1="380.6" y1="623.0" x2="380.6" y2="627.6" stroke="#000" stroke-width="1.4"/>
<line x1="407.20000000000005" y1="623.0" x2="407.20000000000005" y2="627.6" stroke="#000" stroke-width="1.4"/>
<line x1="433.8" y1="623.0" x2="433.8" y2="627.6" stroke="#000" stroke-width="1.4"/>
<line x1="460.40000000000003" y1="623.0" x2="460.40000000000003" y2="627.6" stroke="#000" stroke-width="1.4"/>
<text x="305.40000000000003" y="630.1" font-size="8.4" font-weight="bold" text-anchor="end" transform="rotate(-90 305.40000000000003 630.1)">Daudi</text>
<text x="332.00000000000006" y="630.1" font-size="8.4" font-weight="bold" text-anchor="end" transform="rotate(-90 332.00000000000006 630.1)">T-cells</text>
<text x="358.6" y="630.1" font-size="8.4" font-weight="bold" text-anchor="end" transform="rotate(-90 358.6 630.1)">p2</text>
<text x="385.20000000000005" y="630.1" font-size="8.4" font-weight="bold" text-anchor="end" transform="rotate(-90 385.20000000000005 630.1)">p4</text>
<text x="411.80000000000007" y="630.1" font-size="8.4" font-weight="bold" text-anchor="end" transform="rotate(-90 411.80000000000007 630.1)">p5</text>
<text x="438.40000000000003" y="630.1" font-size="8.4" font-weight="bold" text-anchor="end" transform="rotate(-90 438.40000000000003 630.1)">p6</text>
<text x="465.00000000000006" y="630.1" font-size="8.4" font-weight="bold" text-anchor="end" transform="rotate(-90 465.00000000000006 630.1)">p7</text>
<text x="301.6" y="504.29999999999995" font-size="11" text-anchor="middle">**</text>
<text x="381.2" y="574.9" font-size="11" text-anchor="middle">**</text>
<text x="408.6" y="608.5" font-size="11" text-anchor="middle">*</text>
<text x="461.6" y="554.5" font-size="11" text-anchor="middle">**</text>
</g>
</svg></body></html>
